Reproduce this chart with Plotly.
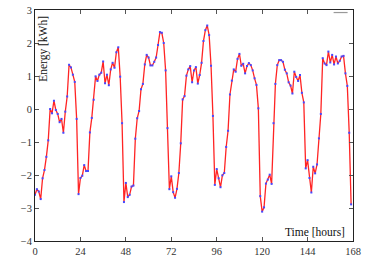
import plotly.graph_objects as go

hours = list(range(168))
energy = [
    -2.60, -2.43, -2.50, -2.73, -2.10, -1.85, -1.45, -0.95, 0.00, -0.13,
    0.25, -0.03, -0.15, -0.40, -0.30, -0.72, -0.08, 0.38, 1.34, 1.26,
    1.04, 0.82, -0.30, -2.58, -2.09, -2.02, -1.70, -1.88, -1.88, -0.71,
    -0.27, 0.28, 0.99, 0.85, 1.04, 1.10, 1.44, 0.78, 1.04, 0.72,
    1.20, 1.40, 1.25, 1.72, 1.87, 0.98, -0.43, -2.82, -2.24, -2.67,
    -2.60, -2.35, -2.32, -0.90, -0.28, -0.06, 0.60, 0.76, 1.35, 1.64,
    1.56, 1.32, 1.32, 1.43, 1.56, 1.94, 2.33, 2.31, 2.00, 1.17,
    -0.58, -2.43, -2.04, -2.52, -2.69, -2.42, -1.94, -1.04, 0.29, 0.39,
    1.01, 1.20, 1.30, 0.81, 1.17, 1.27, 0.77, 1.03, 1.40, 2.06,
    2.39, 2.53, 2.24, 1.31, -0.21, -2.30, -1.82, -2.10, -2.37, -2.01,
    -1.94, -1.15, -0.66, 0.44, 0.86, 1.20, 1.13, 1.52, 1.67, 1.31,
    1.37, 1.08, 1.30, 1.39, 1.33, 1.17, 0.93, 0.73, 0.02, -2.64,
    -3.11, -2.98, -2.26, -2.14, -1.99, -2.27, -0.43, 0.76, 1.33, 1.48,
    1.48, 1.43, 1.19, 1.08, 0.81, 0.71, 0.47, 1.13, 0.97, 0.85,
    1.03, 0.49, 0.20, -1.80, -1.55, -2.09, -2.53, -1.75, -1.95, -1.68,
    -0.89, -0.15, 1.54, 1.38, 1.33, 1.74, 1.41, 1.64, 1.35, 1.59,
    1.38, 1.46, 1.59, 1.61, 1.08, 0.70, -0.72, -2.89,
]
x_ticks = [0, 24, 48, 72, 96, 120, 144, 168]
y_ticks = [-4, -3, -2, -1, 0, 1, 2, 3]
y_tick_text = ["\u22124", "\u22123", "\u22122", "\u22121", "0", "1", "2", "3"]

font_family = "Liberation Serif, Times New Roman, serif"

fig = go.Figure()
fig.add_trace(go.Scatter(
    x=hours, y=energy, mode="lines+markers",
    line=dict(color="#ff2424", width=1.3),
    marker=dict(color="#4848ff", size=2, symbol="square"),
    showlegend=False,
))

axis_common = dict(
    showline=True, linecolor="#222", linewidth=1, mirror="ticks",
    ticks="inside", ticklen=4, tickcolor="#555", tickwidth=1,
    showgrid=False, zeroline=False,
    tickfont=dict(family=font_family, size=10.5, color="#333"),
)

fig.update_layout(
    width=371, height=260,
    margin=dict(l=35, r=18, t=10, b=19, autoexpand=False),
    paper_bgcolor="white", plot_bgcolor="white",
    xaxis=dict(range=[0, 168], tickvals=x_ticks, automargin=False, **axis_common),
    yaxis=dict(range=[-4, 3], tickvals=y_ticks, ticktext=y_tick_text,
               automargin=False, **axis_common),
    font=dict(family=font_family, color="#111"),
    annotations=[
        dict(text="Energy [kWh]", textangle=-90, xref="paper", yref="paper",
             x=0.027, y=0.83, showarrow=False, xanchor="center", yanchor="middle",
             font=dict(family=font_family, size=11.5, color="#111")),
        dict(text="Time [hours]", xref="paper", yref="paper",
             x=0.98, y=0.04, showarrow=False, xanchor="right", yanchor="middle",
             font=dict(family=font_family, size=11.5, color="#111")),
    ],
    shapes=[
        dict(type="line", xref="paper", yref="paper",
             x0=0.939, x1=0.983, y0=0.989, y1=0.989,
             line=dict(color="#999", width=1.2)),
    ],
)

fig.write_html(
    "out.html",
    config={"displayModeBar": False},
    post_script="document.body.style.margin='0px';document.body.style.padding='0px';",
)
